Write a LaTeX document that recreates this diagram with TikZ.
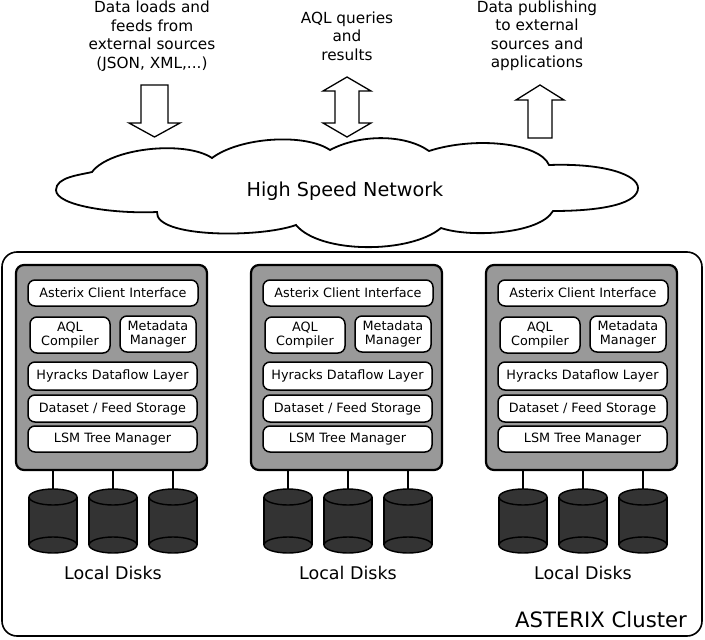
\documentclass[tikz,border=0pt]{standalone}
\usepackage{fontspec}
\setmainfont{DejaVu Sans}
\begin{document}
\begin{tikzpicture}[x=1pt,y=-1pt,line width=1.6pt,
  inner/.style={draw,fill=white,rounded corners=7pt,line width=1.5pt,font=\fontsize{12.8}{14}\selectfont,align=center,inner sep=0pt},
  top/.style={font=\fontsize{15.3}{18.5}\selectfont,align=center},
  bigarrow/.style={draw,fill=white,line width=1.3pt},
  disk/.style={line width=1.4pt}]
\useasboundingbox (0,0) rectangle (705,640);
% top texts
\node[top] (t1) at (152,36) {Data loads and\\feeds from\\external sources\\(JSON, XML,...)};
\node[top] (t2) at (347,36) {AQL queries\\and\\results};
\node[top] (t3) at (537,36) {Data publishing\\to external\\sources and\\applications};
% arrows
\draw[bigarrow] (141,85) -- (168,85) -- (168,123) -- (180,123) -- (154.5,137) -- (129,123) -- (141,123) -- cycle;
\draw[bigarrow] (347,77) -- (371,91) -- (359,91) -- (359,123) -- (371,123) -- (347,137) -- (323,123) -- (335,123) -- (335,91) -- (323,91) -- cycle;
\draw[bigarrow] (540,85) -- (564,100) -- (552,100) -- (552,138) -- (528,138) -- (528,100) -- (516,100) -- cycle;
% cloud
\draw[fill=white,line width=1.8pt] (92,172)
  .. controls (110,148) and (185,140) .. (212,158)
  .. controls (240,137) and (305,133) .. (330,150)
  .. controls (360,134) and (405,134) .. (429,151)
  .. controls (475,136) and (540,143) .. (549,165)
  .. controls (605,163) and (638,175) .. (638,188)
  .. controls (638,203) and (605,211) .. (553,211)
  .. controls (540,234) and (470,238) .. (441,228)
  .. controls (410,254) and (320,254) .. (296,225)
  .. controls (260,238) and (155,238) .. (157,212)
  .. controls (115,214) and (56,206) .. (56,190)
  .. controls (56,177) and (80,175) .. cycle;
\node[font=\fontsize{19.2}{22}\selectfont] (net) at (345,191) {High Speed Network};
% cluster
\draw[rounded corners=15pt] (2,252) rectangle (702,636);
\node[font=\fontsize{21.2}{24}\selectfont,anchor=east] (cl) at (691,620) {ASTERIX Cluster};
\foreach \i/\dx in {1/0,2/235,3/470}{
\begin{scope}[xshift=\dx]
\node[draw,fill=black!40,rounded corners=8pt,line width=2.2pt,minimum width=191,minimum height=205,inner sep=0pt] (n\i) at (111.5,367.5) {};
\node[inner,minimum width=170,minimum height=26] (aci\i) at (113,293) {Asterix Client Interface};
\node[inner,minimum width=80,minimum height=36] (aql\i) at (70,335) {AQL\\Compiler};
\node[inner,minimum width=76,minimum height=36] (md\i) at (158,334) {Metadata\\Manager};
\node[inner,minimum width=169,minimum height=28] (hy\i) at (112.5,376) {Hyracks Dataflow Layer};
\node[inner,minimum width=169,minimum height=27] (ds\i) at (112.5,408.5) {Dataset / Feed Storage};
\node[inner,minimum width=169,minimum height=26] (lsm\i) at (112.5,439) {LSM Tree Manager};
\foreach \j/\x in {a/53,b/113,c/173}{
  \coordinate (d\i\j) at (\x,497);
  \draw (\x,470) -- (d\i\j);
  \fill[black!80] (\x,545) ellipse[x radius=24,y radius=8];
  \fill[black!80] (\x-24,497) rectangle (\x+24,545);
  \draw[disk] (\x,545) ellipse[x radius=24,y radius=8];
  \draw[disk] (\x-24,497) -- (\x-24,545) (\x+24,497) -- (\x+24,545);
  \filldraw[disk,fill=black!80] (\x,497) ellipse[x radius=24,y radius=8];
}
\node[font=\fontsize{17.5}{20}\selectfont] (ld\i) at (113,573) {Local Disks};
\end{scope}}
\end{tikzpicture}
\end{document}
